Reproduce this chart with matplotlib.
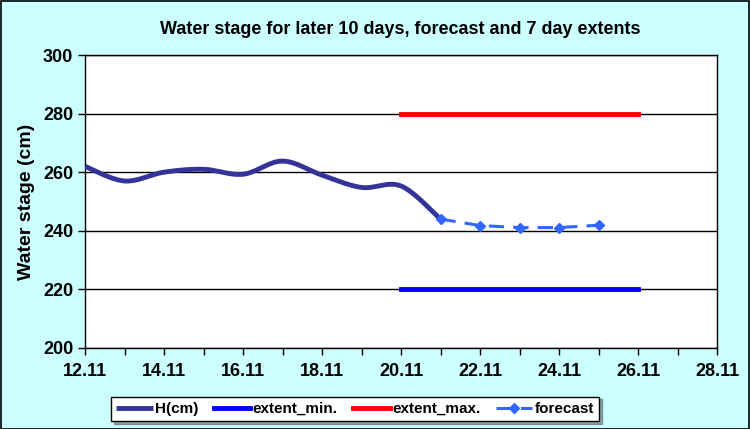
import numpy as np
import pandas as pd
import matplotlib
matplotlib.use("Agg")
import matplotlib.pyplot as plt
import matplotlib.dates as mdates

plt.rcParams['font.family'] = ['Liberation Sans', 'DejaVu Sans']
plt.rcParams['font.weight'] = 'bold'

# observed water stage
h_dates = pd.date_range('2023-11-12', '2023-11-21', freq='D')
h_vals = [262, 257, 260, 261, 259.3, 263.8, 259, 254.8, 255.3, 244]

# forecast
fc_dates = pd.date_range('2023-11-21', '2023-11-25', freq='D')
fc_vals = [244, 241.8, 241.1, 241.1, 241.9]

# 7 day extents
ext_dates = [pd.Timestamp('2023-11-20'), pd.Timestamp('2023-11-26')]
ext_min = [220, 220]
ext_max = [280, 280]

tick_dates = pd.date_range('2023-11-12', '2023-11-28', freq='2D')
day_ticks = pd.date_range('2023-11-12', '2023-11-28', freq='D')


def smooth(x, y, n=20):
    # Catmull-Rom spline, similar to Excel's smoothed line
    x = np.asarray(x, float)
    y = np.asarray(y, float)
    px = np.concatenate([[x[0]], x, [x[-1]]])
    py = np.concatenate([[y[0]], y, [y[-1]]])
    xs, ys = [], []
    t = np.linspace(0, 1, n)
    for i in range(1, len(px) - 2):
        for p, out in ((px, xs), (py, ys)):
            p0, p1, p2, p3 = p[i - 1], p[i], p[i + 1], p[i + 2]
            out.extend(0.5 * ((2 * p1) + (-p0 + p2) * t
                              + (2 * p0 - 5 * p1 + 4 * p2 - p3) * t ** 2
                              + (-p0 + 3 * p1 - 3 * p2 + p3) * t ** 3))
    return np.array(xs), np.array(ys)


fig = plt.figure(figsize=(7.5, 4.29), dpi=100, facecolor='#CCFFFF')
fig.patches.append(plt.Rectangle((0.001, 0.001), 0.997, 0.997, transform=fig.transFigure,
                                 fill=False, edgecolor='black', linewidth=1.2))
ax = fig.add_axes([85 / 750, 1 - 348 / 429, 632 / 750, 293 / 429])
ax.set_facecolor('white')

hx, hy = smooth(mdates.date2num(h_dates), h_vals)
ax.plot(hx, hy, color='#333399', linewidth=3.5, label='H(cm)', solid_capstyle='butt', zorder=4)
ax.plot(ext_dates, ext_min, color='#0000FF', linewidth=3.5, label='extent_min.', zorder=3)
ax.plot(ext_dates, ext_max, color='#FF0000', linewidth=3.5, label='extent_max.', zorder=3)
ax.plot(fc_dates, fc_vals, color='#3366FF', linewidth=2.2, linestyle=(0, (5, 3)),
        marker='D', markersize=5, label='forecast', zorder=5)

ax.set_ylim(200, 300)
ax.set_yticks(range(200, 301, 20))
ax.set_xlim(tick_dates[0], tick_dates[-1])
ax.set_xticks(tick_dates)
ax.set_xticks(day_ticks, minor=True)
ax.set_xticklabels([d.strftime('%d.%m') for d in tick_dates])
ax.grid(axis='y', color='black', linewidth=1)
ax.set_axisbelow(True)
ax.tick_params(which='both', labelsize=13, length=5, width=1, direction='out', colors='black')
ax.tick_params(axis='x', pad=6)
for s in ax.spines.values():
    s.set_color('black')
    s.set_linewidth(1)

ax.set_ylabel('Water stage (cm)', fontsize=14, fontweight='bold', labelpad=6)
fig.text(400 / 750, 1 - 29 / 429, 'Water stage for later 10 days, forecast and 7 day extents',
         ha='center', va='center', fontsize=13, fontweight='bold')

leg = fig.legend(loc='center', bbox_to_anchor=(355 / 750, 1 - 409 / 429), ncol=4,
                 frameon=True, fancybox=False, shadow=True, fontsize=11,
                 handlelength=2.4, handletextpad=0.15, columnspacing=1.0,
                 borderpad=0.35)
leg.get_frame().set_edgecolor('black')
leg.get_frame().set_linewidth(1)

fig.savefig('out.png', dpi=100, facecolor=fig.get_facecolor())
